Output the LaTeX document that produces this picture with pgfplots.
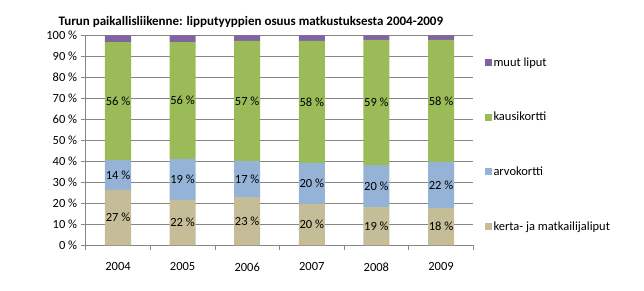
\documentclass[border=0pt]{standalone}
\usepackage{pgfplots}
\pgfplotsset{compat=1.18}
\usepackage{fontspec}
\setmainfont{Carlito}
\definecolor{cmuut}{HTML}{8064A2}
\definecolor{ckausi}{HTML}{9BBB59}
\definecolor{carvo}{HTML}{95B3D7}
\definecolor{ckerta}{HTML}{C4BD97}
\definecolor{gridc}{HTML}{868686}
\pgfplotsset{
  seglabel/.style={
    point meta=explicit symbolic,
    nodes near coords={\pgfplotspointmeta~\%},
    every node near coord/.append style={anchor=center, text=black,
      font=\fontsize{12.5}{14}\selectfont},
  }
}
\begin{document}
\begin{tikzpicture}
\useasboundingbox (-85.7pt,-44.7pt) rectangle (558.3pt,245.3pt);
\begin{axis}[
  at={(0,0)}, anchor=south west,
  scale only axis, width=387.6pt, height=210pt,
  ybar stacked, bar width=26pt,
  xmin=-0.5, xmax=5.5, ymin=0, ymax=100,
  xtick={0,...,5}, xticklabels={2004,2005,2006,2007,2008,2009},
  major x tick style={draw=none},
  minor xtick={-0.5,0.5,...,5.5},
  minor x tick style={gridc, line width=0.8pt},
  minor tick length=5pt,
  ytick={0,10,...,100},
  major y tick style={gridc, line width=0.8pt},
  major tick length=5pt,
  tick align=outside,
  ymajorgrids, grid style={gridc, line width=0.8pt},
  axis x line*=bottom, axis y line*=left,
  axis line style={gridc, line width=0.8pt, -},
  /pgf/number format/assume math mode=true,
  yticklabel={\pgfmathprintnumber{\tick}~\%},
  ticklabel style={font=\fontsize{12.5}{14}\selectfont, text=black},
  xticklabel style={yshift=-9pt},
  every axis title shift=0pt,
  title={Turun paikallisliikenne: lipputyyppien osuus matkustuksesta 2004-2009},
  title style={at={(-0.0792,1)}, anchor=base west, yshift=10pt,
    font=\fontsize{13}{15}\selectfont\bfseries},
  legend style={draw=none, fill=none, at={(1,1)}, anchor=north west,
    xshift=8pt, yshift=-18pt,
    font=\fontsize{12.5}{14}\selectfont, row sep=40.5pt},
  reverse legend,
  legend cell align=left,
  legend image code/.code={\fill[#1] (0pt,-3.5pt) rectangle (7pt,3.5pt);},
]
\addplot[fill=ckerta, draw=none, seglabel] table[x=x, y=y, meta=l] {
x y l
0 26.3 27
1 21.6 22
2 23.0 23
3 19.7 20
4 18.2 19
5 17.8 18
};
\addplot[fill=carvo, draw=none, seglabel] table[x=x, y=y, meta=l] {
x y l
0 14.3 14
1 19.5 19
2 17.1 17
3 19.5 20
4 20.0 20
5 21.9 22
};
\addplot[fill=ckausi, draw=none, seglabel] table[x=x, y=y, meta=l] {
x y l
0 56.2 56
1 55.7 56
2 57.2 57
3 58.1 58
4 59.6 59
5 58.1 58
};
\addplot[fill=cmuut, draw=none] table[x=x, y=y] {
x y
0 3.2
1 3.2
2 2.7
3 2.7
4 2.2
5 2.2
};
\legend{kerta- ja matkailijaliput, arvokortti, kausikortti, muut liput}
\end{axis}
\end{tikzpicture}
\end{document}
